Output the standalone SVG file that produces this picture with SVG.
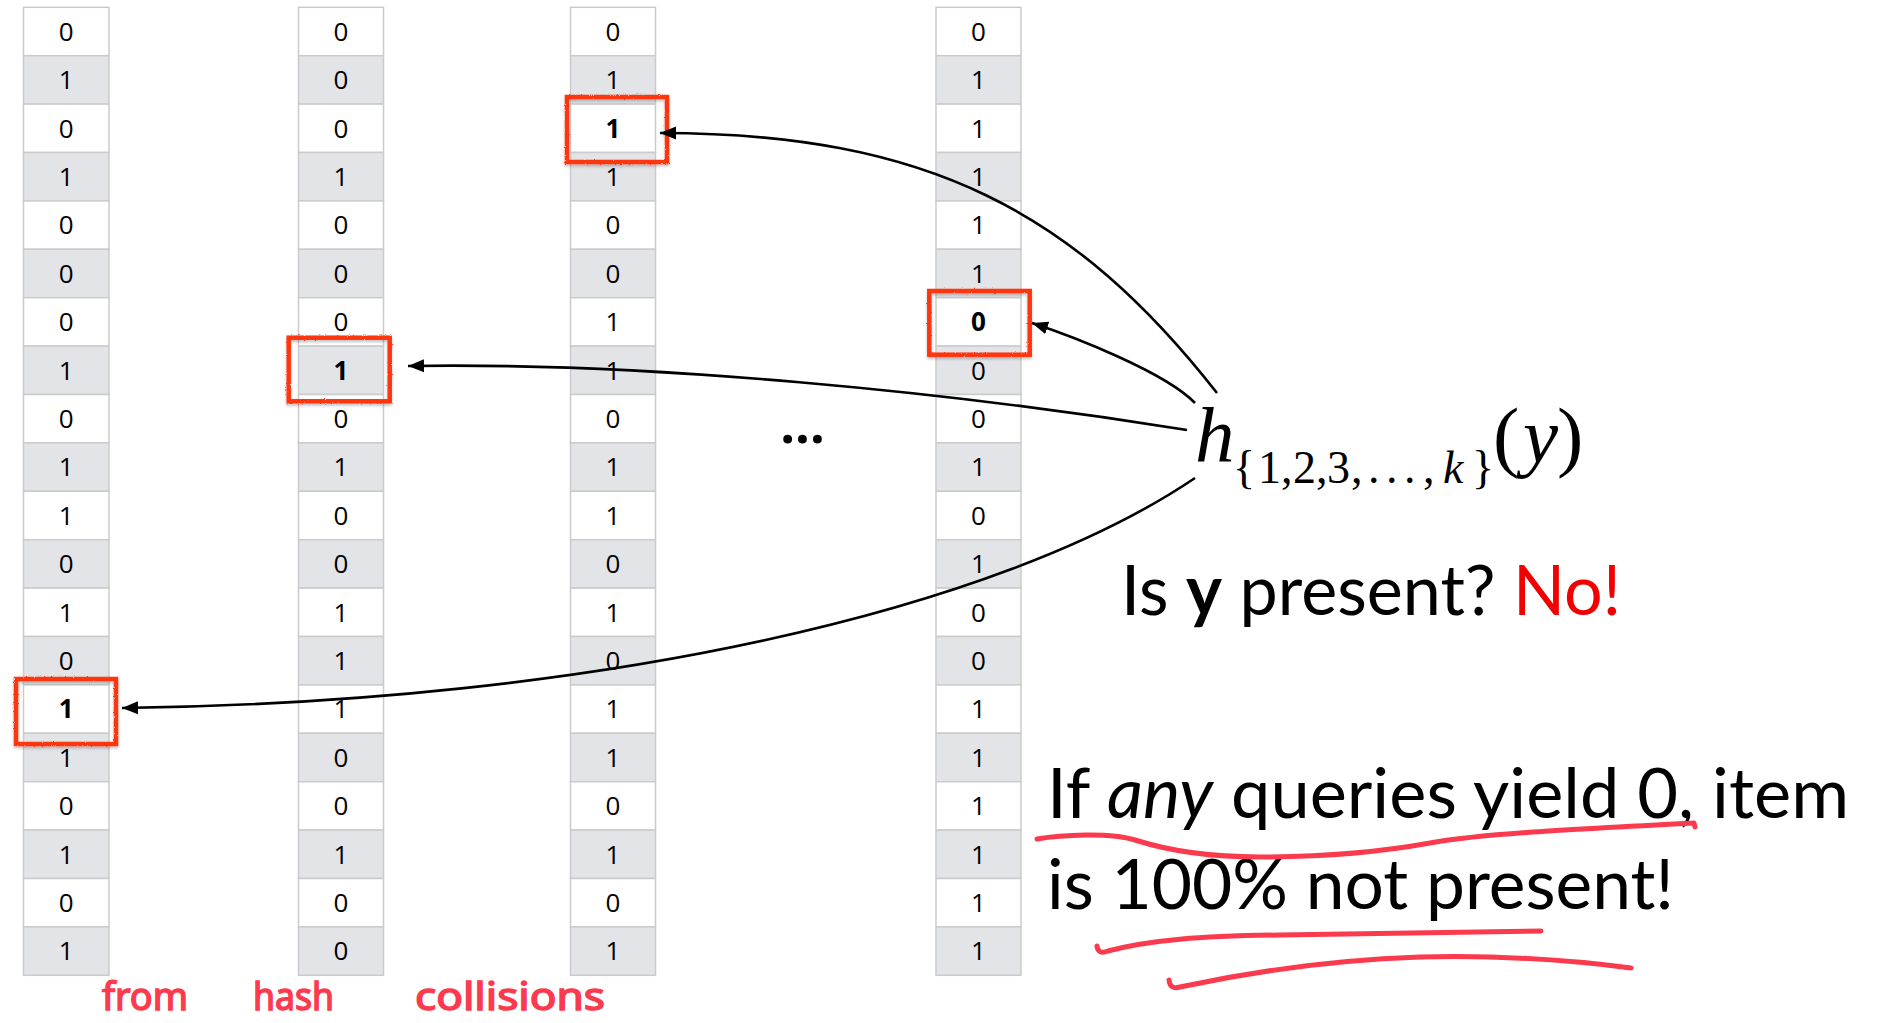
<svg xmlns="http://www.w3.org/2000/svg" width="1883" height="1023" viewBox="0 0 1883 1023">
<style>
.cw{fill:#ffffff;stroke:#cbcbcb;stroke-width:1.5}
.cg{fill:#e3e4e8;stroke:#cbcbcb;stroke-width:1.5}
.d{font-family:"Open Sans","Noto Sans",sans-serif;font-size:26px;text-anchor:middle;fill:#000}
.b{font-weight:bold}
.hl{fill:none;stroke:#ff3510;stroke-width:4.5;filter:url(#rough)}
.con{fill:none;stroke:#000;stroke-width:2.6;marker-end:url(#ah)}
.ink{fill:none;stroke:#fb3a4e;stroke-width:5;stroke-linecap:round;stroke-linejoin:round}
.hand{font-family:"Noto Sans","DejaVu Sans",sans-serif;font-size:38px;fill:#fb3a4e;stroke:#fb3a4e;stroke-width:1.5}
.big{font-family:Lato,"Open Sans",sans-serif;font-size:70px;fill:#000}
.math{font-family:"Liberation Serif","Times New Roman",serif;fill:#000}
</style>
<defs>
<marker id="ah" markerUnits="userSpaceOnUse" markerWidth="18" markerHeight="14" refX="16" refY="7" orient="auto"><path d="M0,0.5 L16,7 L0,13.5 z" fill="#000"/></marker>
<filter id="rough" x="-10%" y="-10%" width="120%" height="130%">
<feTurbulence type="fractalNoise" baseFrequency="0.9" numOctaves="1" seed="3" result="n"/>
<feDisplacementMap in="SourceGraphic" in2="n" scale="2.5" xChannelSelector="R" yChannelSelector="G" result="r"/>
<feDropShadow dx="0" dy="2" stdDeviation="1.5" flood-color="#000" flood-opacity="0.25"/>
</filter>
</defs>
<rect x="0" y="0" width="1883" height="1023" fill="#fff"/>

<g id="column1" transform="translate(23.5,0)">
<rect class="cw" x="0" y="7.3" width="85.5" height="48.4"/><text class="d" x="42.75" y="40.8">0</text>
<rect class="cg" x="0" y="55.7" width="85.5" height="48.4"/><text class="d" x="42.75" y="89.2">1</text>
<rect class="cw" x="0" y="104.1" width="85.5" height="48.4"/><text class="d" x="42.75" y="137.6">0</text>
<rect class="cg" x="0" y="152.5" width="85.5" height="48.4"/><text class="d" x="42.75" y="186">1</text>
<rect class="cw" x="0" y="200.9" width="85.5" height="48.4"/><text class="d" x="42.75" y="234.4">0</text>
<rect class="cg" x="0" y="249.3" width="85.5" height="48.4"/><text class="d" x="42.75" y="282.8">0</text>
<rect class="cw" x="0" y="297.7" width="85.5" height="48.4"/><text class="d" x="42.75" y="331.2">0</text>
<rect class="cg" x="0" y="346.1" width="85.5" height="48.4"/><text class="d" x="42.75" y="379.6">1</text>
<rect class="cw" x="0" y="394.5" width="85.5" height="48.4"/><text class="d" x="42.75" y="428">0</text>
<rect class="cg" x="0" y="442.9" width="85.5" height="48.4"/><text class="d" x="42.75" y="476.4">1</text>
<rect class="cw" x="0" y="491.3" width="85.5" height="48.4"/><text class="d" x="42.75" y="524.8">1</text>
<rect class="cg" x="0" y="539.7" width="85.5" height="48.4"/><text class="d" x="42.75" y="573.2">0</text>
<rect class="cw" x="0" y="588.1" width="85.5" height="48.4"/><text class="d" x="42.75" y="621.6">1</text>
<rect class="cg" x="0" y="636.5" width="85.5" height="48.4"/><text class="d" x="42.75" y="670">0</text>
<rect class="cw" x="0" y="684.9" width="85.5" height="48.4"/><text class="d b" x="42.75" y="718.4">1</text>
<rect class="cg" x="0" y="733.3" width="85.5" height="48.4"/><text class="d" x="42.75" y="766.8">1</text>
<rect class="cw" x="0" y="781.7" width="85.5" height="48.4"/><text class="d" x="42.75" y="815.2">0</text>
<rect class="cg" x="0" y="830.1" width="85.5" height="48.4"/><text class="d" x="42.75" y="863.6">1</text>
<rect class="cw" x="0" y="878.5" width="85.5" height="48.4"/><text class="d" x="42.75" y="912">0</text>
<rect class="cg" x="0" y="926.9" width="85.5" height="48.4"/><text class="d" x="42.75" y="960.4">1</text>
</g>

<g id="column2" transform="translate(298.5,0)">
<rect class="cw" x="0" y="7.3" width="85" height="48.4"/><text class="d" x="42.5" y="40.8">0</text>
<rect class="cg" x="0" y="55.7" width="85" height="48.4"/><text class="d" x="42.5" y="89.2">0</text>
<rect class="cw" x="0" y="104.1" width="85" height="48.4"/><text class="d" x="42.5" y="137.6">0</text>
<rect class="cg" x="0" y="152.5" width="85" height="48.4"/><text class="d" x="42.5" y="186">1</text>
<rect class="cw" x="0" y="200.9" width="85" height="48.4"/><text class="d" x="42.5" y="234.4">0</text>
<rect class="cg" x="0" y="249.3" width="85" height="48.4"/><text class="d" x="42.5" y="282.8">0</text>
<rect class="cw" x="0" y="297.7" width="85" height="48.4"/><text class="d" x="42.5" y="331.2">0</text>
<rect class="cg" x="0" y="346.1" width="85" height="48.4"/><text class="d b" x="42.5" y="379.6">1</text>
<rect class="cw" x="0" y="394.5" width="85" height="48.4"/><text class="d" x="42.5" y="428">0</text>
<rect class="cg" x="0" y="442.9" width="85" height="48.4"/><text class="d" x="42.5" y="476.4">1</text>
<rect class="cw" x="0" y="491.3" width="85" height="48.4"/><text class="d" x="42.5" y="524.8">0</text>
<rect class="cg" x="0" y="539.7" width="85" height="48.4"/><text class="d" x="42.5" y="573.2">0</text>
<rect class="cw" x="0" y="588.1" width="85" height="48.4"/><text class="d" x="42.5" y="621.6">1</text>
<rect class="cg" x="0" y="636.5" width="85" height="48.4"/><text class="d" x="42.5" y="670">1</text>
<rect class="cw" x="0" y="684.9" width="85" height="48.4"/><text class="d" x="42.5" y="718.4">1</text>
<rect class="cg" x="0" y="733.3" width="85" height="48.4"/><text class="d" x="42.5" y="766.8">0</text>
<rect class="cw" x="0" y="781.7" width="85" height="48.4"/><text class="d" x="42.5" y="815.2">0</text>
<rect class="cg" x="0" y="830.1" width="85" height="48.4"/><text class="d" x="42.5" y="863.6">1</text>
<rect class="cw" x="0" y="878.5" width="85" height="48.4"/><text class="d" x="42.5" y="912">0</text>
<rect class="cg" x="0" y="926.9" width="85" height="48.4"/><text class="d" x="42.5" y="960.4">0</text>
</g>

<g id="column3" transform="translate(570.5,0)">
<rect class="cw" x="0" y="7.3" width="85" height="48.4"/><text class="d" x="42.5" y="40.8">0</text>
<rect class="cg" x="0" y="55.7" width="85" height="48.4"/><text class="d" x="42.5" y="89.2">1</text>
<rect class="cw" x="0" y="104.1" width="85" height="48.4"/><text class="d b" x="42.5" y="137.6">1</text>
<rect class="cg" x="0" y="152.5" width="85" height="48.4"/><text class="d" x="42.5" y="186">1</text>
<rect class="cw" x="0" y="200.9" width="85" height="48.4"/><text class="d" x="42.5" y="234.4">0</text>
<rect class="cg" x="0" y="249.3" width="85" height="48.4"/><text class="d" x="42.5" y="282.8">0</text>
<rect class="cw" x="0" y="297.7" width="85" height="48.4"/><text class="d" x="42.5" y="331.2">1</text>
<rect class="cg" x="0" y="346.1" width="85" height="48.4"/><text class="d" x="42.5" y="379.6">1</text>
<rect class="cw" x="0" y="394.5" width="85" height="48.4"/><text class="d" x="42.5" y="428">0</text>
<rect class="cg" x="0" y="442.9" width="85" height="48.4"/><text class="d" x="42.5" y="476.4">1</text>
<rect class="cw" x="0" y="491.3" width="85" height="48.4"/><text class="d" x="42.5" y="524.8">1</text>
<rect class="cg" x="0" y="539.7" width="85" height="48.4"/><text class="d" x="42.5" y="573.2">0</text>
<rect class="cw" x="0" y="588.1" width="85" height="48.4"/><text class="d" x="42.5" y="621.6">1</text>
<rect class="cg" x="0" y="636.5" width="85" height="48.4"/><text class="d" x="42.5" y="670">0</text>
<rect class="cw" x="0" y="684.9" width="85" height="48.4"/><text class="d" x="42.5" y="718.4">1</text>
<rect class="cg" x="0" y="733.3" width="85" height="48.4"/><text class="d" x="42.5" y="766.8">1</text>
<rect class="cw" x="0" y="781.7" width="85" height="48.4"/><text class="d" x="42.5" y="815.2">0</text>
<rect class="cg" x="0" y="830.1" width="85" height="48.4"/><text class="d" x="42.5" y="863.6">1</text>
<rect class="cw" x="0" y="878.5" width="85" height="48.4"/><text class="d" x="42.5" y="912">0</text>
<rect class="cg" x="0" y="926.9" width="85" height="48.4"/><text class="d" x="42.5" y="960.4">1</text>
</g>

<g id="column4" transform="translate(936,0)">
<rect class="cw" x="0" y="7.3" width="85" height="48.4"/><text class="d" x="42.5" y="40.8">0</text>
<rect class="cg" x="0" y="55.7" width="85" height="48.4"/><text class="d" x="42.5" y="89.2">1</text>
<rect class="cw" x="0" y="104.1" width="85" height="48.4"/><text class="d" x="42.5" y="137.6">1</text>
<rect class="cg" x="0" y="152.5" width="85" height="48.4"/><text class="d" x="42.5" y="186">1</text>
<rect class="cw" x="0" y="200.9" width="85" height="48.4"/><text class="d" x="42.5" y="234.4">1</text>
<rect class="cg" x="0" y="249.3" width="85" height="48.4"/><text class="d" x="42.5" y="282.8">1</text>
<rect class="cw" x="0" y="297.7" width="85" height="48.4"/><text class="d b" x="42.5" y="331.2">0</text>
<rect class="cg" x="0" y="346.1" width="85" height="48.4"/><text class="d" x="42.5" y="379.6">0</text>
<rect class="cw" x="0" y="394.5" width="85" height="48.4"/><text class="d" x="42.5" y="428">0</text>
<rect class="cg" x="0" y="442.9" width="85" height="48.4"/><text class="d" x="42.5" y="476.4">1</text>
<rect class="cw" x="0" y="491.3" width="85" height="48.4"/><text class="d" x="42.5" y="524.8">0</text>
<rect class="cg" x="0" y="539.7" width="85" height="48.4"/><text class="d" x="42.5" y="573.2">1</text>
<rect class="cw" x="0" y="588.1" width="85" height="48.4"/><text class="d" x="42.5" y="621.6">0</text>
<rect class="cg" x="0" y="636.5" width="85" height="48.4"/><text class="d" x="42.5" y="670">0</text>
<rect class="cw" x="0" y="684.9" width="85" height="48.4"/><text class="d" x="42.5" y="718.4">1</text>
<rect class="cg" x="0" y="733.3" width="85" height="48.4"/><text class="d" x="42.5" y="766.8">1</text>
<rect class="cw" x="0" y="781.7" width="85" height="48.4"/><text class="d" x="42.5" y="815.2">1</text>
<rect class="cg" x="0" y="830.1" width="85" height="48.4"/><text class="d" x="42.5" y="863.6">1</text>
<rect class="cw" x="0" y="878.5" width="85" height="48.4"/><text class="d" x="42.5" y="912">1</text>
<rect class="cg" x="0" y="926.9" width="85" height="48.4"/><text class="d" x="42.5" y="960.4">1</text>
</g>

<g id="highlights">
<rect class="hl" x="16" y="679" width="100" height="65"/>
<rect class="hl" x="288.7" y="337.7" width="101" height="63.6"/>
<rect class="hl" x="567" y="97" width="100" height="65"/>
<rect class="hl" x="929.3" y="291" width="100.4" height="63.7"/>
</g>

<g id="ellipsis"><text x="802.5" y="443" font-family="'Open Sans','Noto Sans',sans-serif" font-size="52" font-weight="bold" text-anchor="middle">...</text></g>

<g id="connectors">
<path class="con" d="M1217,393 C1076,213 929,133 660,133"/>
<path class="con" d="M1195,403 C1165,372 1072,336 1032,323"/>
<path class="con" d="M1187,430 C950,392 650,362 408,366"/>
<path class="con" d="M1195,478 C1000,610 600,702 122,708"/>
</g>

<g id="hash-function">
<text class="math" y="462" font-size="79"><tspan x="1195" font-style="italic">h</tspan><tspan font-size="46" y="483" x="1233">{</tspan><tspan font-size="46" x="1258">1</tspan><tspan font-size="46" x="1281">,</tspan><tspan font-size="46" x="1293">2</tspan><tspan font-size="46" x="1316">,</tspan><tspan font-size="46" x="1327">3</tspan><tspan font-size="46" x="1351">,</tspan><tspan font-size="46" x="1368">.</tspan><tspan font-size="46" x="1386">.</tspan><tspan font-size="46" x="1404">.</tspan><tspan font-size="46" x="1423">,</tspan><tspan font-size="46" x="1443" font-style="italic">k</tspan><tspan font-size="46" x="1472">}</tspan><tspan x="1493" y="462">(</tspan><tspan x="1523" font-style="italic">y</tspan><tspan x="1557">)</tspan></text>
</g>

<g id="question">
<text class="big" x="1121" y="615" textLength="500" lengthAdjust="spacingAndGlyphs">Is <tspan font-weight="bold">y</tspan> present? <tspan fill="#f00000">No!</tspan></text>
</g>

<g id="conclusion">
<text class="big" x="1047" y="818" textLength="802" lengthAdjust="spacingAndGlyphs">If <tspan font-style="italic">any</tspan> queries yield 0, item</text>
<text class="big" x="1047" y="909" textLength="627" lengthAdjust="spacingAndGlyphs">is 100% not present!</text>
</g>

<g id="annotations">
<path class="ink" d="M1037,839 C1060,835 1110,832 1135,840 S1200,857 1260,857 S1380,852 1430,843 S1560,830 1694,823 l1,4"/>
<path class="ink" d="M1097,946 Q1098,955 1108,951 C1150,940 1200,936 1280,935 L1541,931"/>
<path class="ink" d="M1169,980 Q1170,990 1180,987 C1250,972 1330,960 1420,957 C1500,955 1570,960 1631,968"/>
<text class="hand" x="102" y="1010" textLength="86" lengthAdjust="spacingAndGlyphs">from</text>
<text class="hand" x="253" y="1010" textLength="81" lengthAdjust="spacingAndGlyphs">hash</text>
<text class="hand" x="415" y="1010" textLength="190" lengthAdjust="spacingAndGlyphs">collisions</text>
</g>
</svg>
